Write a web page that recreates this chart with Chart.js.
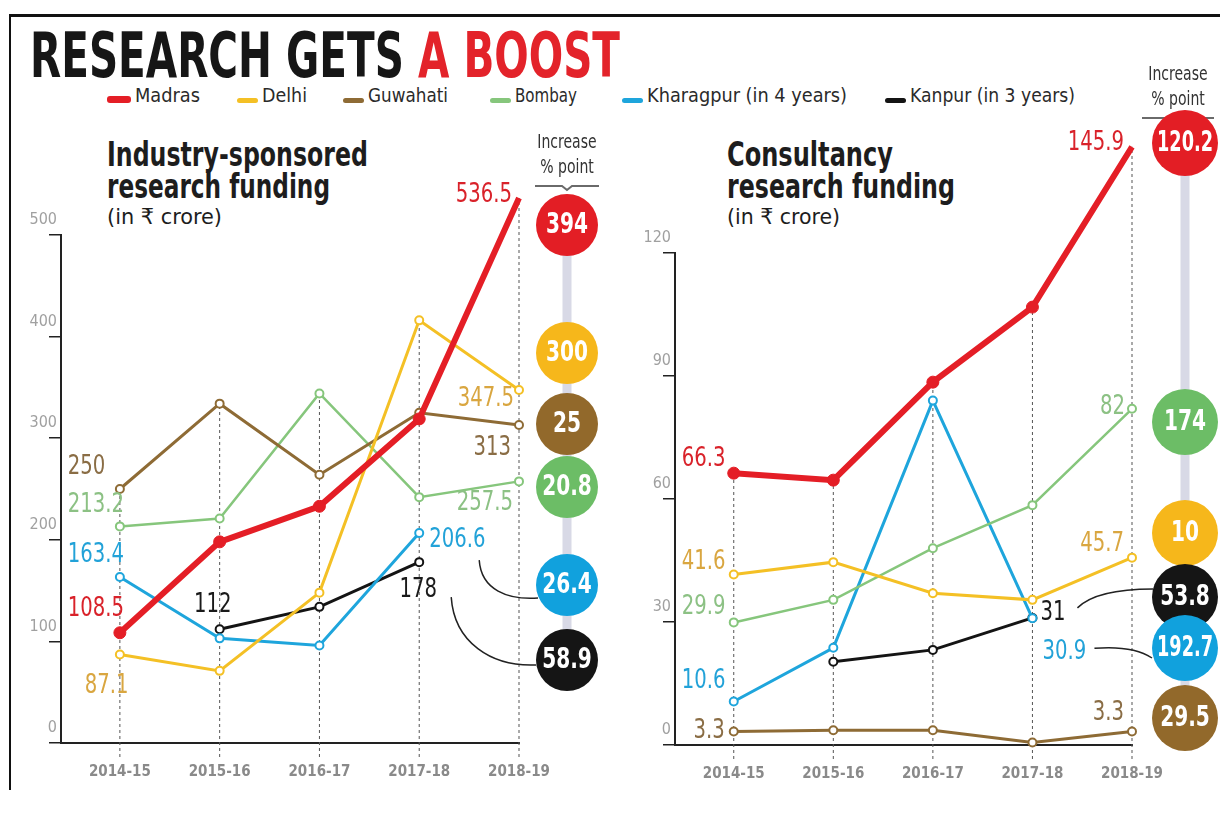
<!DOCTYPE html>
<html>
<head>
<meta charset="utf-8">
<title>Research gets a boost</title>
<script src="https://cdn.jsdelivr.net/npm/chart.js"></script>
<style>
  body { margin: 0; background: #fff; width: 1220px; height: 815px; position: relative; overflow: hidden;
         font-family: 'Liberation Sans Narrow', 'DejaVu Sans Condensed', 'Liberation Sans', 'Noto Sans', sans-serif; }
  .abs { position: absolute; white-space: nowrap; line-height: 1; transform-origin: 0 0; }
  .frameTop { position: absolute; left: 10px; top: 14px; width: 1210px; height: 3px; background: #111; }
  .frameLeft { position: absolute; left: 9px; top: 14px; width: 2px; height: 776px; background: #111; }
  .title { font-weight: bold; font-size: 62px; color: #161616; }
  .title span { color: #e3232a; }
  .panelTitle { font-weight: bold; font-size: 34px; color: #1d1d1d; }
  .unit { font-size: 22px; color: #1d1d1d; }
  .legText { font-size: 19px; color: #2a2a2a; }
  .legMark { position: absolute; border-radius: 3px; }
  canvas { position: absolute; top: 0; }
</style>
</head>
<body>
<div class="frameTop"></div>
<div class="frameLeft"></div>
<div class="abs title" id="title" style="left:30px; top:25px">RESEARCH GETS <span>A BOOST</span></div>
<div id="legend"></div>

<div class="abs panelTitle" data-w="261" style="left:107px; top:137px">Industry-sponsored</div>
<div class="abs panelTitle" data-w="223" style="left:107px; top:169px">research funding</div>
<div class="abs unit" data-w="115" style="left:107px; top:206px">(in ₹ crore)</div>

<div class="abs panelTitle" data-w="166" style="left:727px; top:137px">Consultancy</div>
<div class="abs panelTitle" data-w="228" style="left:727px; top:169px">research funding</div>
<div class="abs unit" data-w="113" style="left:727px; top:206px">(in ₹ crore)</div>

<canvas id="industryChart" width="610" height="815" style="left:0"></canvas>
<canvas id="consultChart" width="610" height="815" style="left:610px"></canvas>

<script>
const years = ['2014-15', '2015-16', '2016-17', '2017-18', '2018-19'];
const institutes = ['Madras', 'Delhi', 'Guwahati', 'Bombay', 'Kharagpur (in 4 years)', 'Kanpur (in 3 years)'];

// Industry-sponsored research funding (in Rs crore)
const industryMadras    = [108.5, 198, 233, 319, 536.5];
const industryDelhi     = [87.1, 71, 148, 416, 347.5];
const industryGuwahati  = [250, 334, 264, 325, 313];
const industryBombay    = [213.2, 221, 344, 242, 257.5];
const industryKharagpur = [163.4, 103, 96, 206.6, null];
const industryKanpur    = [null, 112, 134, 178, null];
const industryIncrease  = ['394', '300', '25', '20.8', '26.4', '58.9'];
const industryTicks     = [0, 100, 200, 300, 400, 500];

// Consultancy research funding (in Rs crore)
const consultMadras    = [66.3, 64.6, 88.5, 106.8, 145.9];
const consultDelhi     = [41.6, 44.6, 37, 35.4, 45.7];
const consultGuwahati  = [3.3, 3.6, 3.6, 0.6, 3.3];
const consultBombay    = [29.9, 35.4, 48, 58.5, 82];
const consultKharagpur = [10.6, 23.7, 84, 30.9, null];
const consultKanpur    = [null, 20.3, 23.2, 31, null];
const consultIncrease  = ['120.2', '10', '29.5', '174', '192.7', '53.8'];
const consultTicks     = [0, 30, 60, 90, 120];

// styles
const lineColors  = ['#e41e26', '#f4c025', '#8e6b35', '#86c67c', '#1ea5dc', '#141414'];
const labelColors = ['#d9222a', '#d9a640', '#8a6d45', '#8cc184', '#22a2d8', '#1a1a1a'];
const badgeColors = ['#e31e25', '#f6b71b', '#92692b', '#6cbd66', '#11a1dd', '#151515'];
const lineWidths  = [6, 3, 3, 2.5, 3, 3];
const FONT = "'Liberation Sans Narrow', 'DejaVu Sans Condensed', 'Liberation Sans', sans-serif";

// legend
const legendX = [107, 237, 343, 490, 622, 885];
const legendW = [65, 45, 80, 62, 200, 165];
const legend = document.getElementById('legend');
institutes.forEach((name, i) => {
  const m = document.createElement('div');
  m.className = 'legMark';
  m.style.left = legendX[i] + 'px';
  m.style.top = (i === 0 ? 96 : 98) + 'px';
  m.style.width = (i === 0 ? 24 : 21) + 'px';
  m.style.height = (i === 0 ? 7 : 5) + 'px';
  m.style.background = lineColors[i];
  legend.appendChild(m);
  const t = document.createElement('div');
  t.className = 'abs legText';
  t.dataset.w = legendW[i];
  t.style.left = (legendX[i] + (i === 0 ? 28 : 25)) + 'px';
  t.style.top = '86px';
  t.textContent = name;
  legend.appendChild(t);
});

function fitWidth(el, w) {
  el.style.transform = 'none';
  const n = el.getBoundingClientRect().width;
  el.style.transform = 'scaleX(' + (w / n) + ')';
}
fitWidth(document.getElementById('title'), 590);
document.querySelectorAll('[data-w]').forEach(el => fitWidth(el, +el.dataset.w));

// text squeezed horizontally, to imitate the narrow newspaper face
function narrowText(ctx, text, x, y, align, sx) {
  ctx.save();
  ctx.translate(x, y);
  ctx.scale(sx, 1);
  ctx.textAlign = align;
  ctx.fillText(text, 0, 0);
  ctx.restore();
}

function makeDatasets(series) {
  return series.map((arr, k) => ({
    label: institutes[k],
    data: years.map((_, i) => ({ x: i, y: arr[i] })),
    borderColor: lineColors[k],
    backgroundColor: lineColors[k],
    borderWidth: lineWidths[k],
    pointRadius: k === 0 ? 6 : 4,
    pointBorderWidth: k === 0 ? 1 : 2,
    pointBackgroundColor: k === 0 ? lineColors[k] : '#ffffff',
    pointBorderColor: lineColors[k],
    tension: 0,
    clip: false,
    spanGaps: false
  }));
}

const decorPlugin = {
  id: 'decor',
  beforeDatasetsDraw(chart, args, o) {
    const ctx = chart.ctx, xs = chart.scales.x, ys = chart.scales.y;
    ctx.save();
    // dashed guides up to the highest point of each year
    ctx.setLineDash([3, 3]);
    ctx.strokeStyle = '#555';
    ctx.lineWidth = 1;
    years.forEach((_, i) => {
      const vals = chart.data.datasets.map(d => d.data[i].y).filter(v => v != null);
      const px = xs.getPixelForValue(i);
      ctx.beginPath();
      ctx.moveTo(px, ys.getPixelForValue(0) + 14);
      ctx.lineTo(px, ys.getPixelForValue(Math.max(...vals)));
      ctx.stroke();
    });
    ctx.setLineDash([]);
    // grey spine behind the badges
    ctx.strokeStyle = '#d8d9e6';
    ctx.lineWidth = 9;
    ctx.beginPath();
    ctx.moveTo(o.badgeX, Math.min(...o.badgeY));
    ctx.lineTo(o.badgeX, Math.max(...o.badgeY));
    ctx.stroke();
    ctx.restore();
  },
  afterDatasetsDraw(chart, args, o) {
    const ctx = chart.ctx;
    ctx.save();
    // value labels
    ctx.font = '26px ' + FONT;
    ctx.textBaseline = 'middle';
    o.notes.forEach(([ds, i, dx, dy, align]) => {
      const el = chart.getDatasetMeta(ds).data[i];
      ctx.fillStyle = labelColors[ds];
      narrowText(ctx, String(chart.data.datasets[ds].data[i].y), el.x + dx, el.y + dy, align, 0.84);
    });
    // connectors from labels to badges
    ctx.strokeStyle = '#222';
    ctx.lineWidth = 1.5;
    o.links.forEach(([ds, i, sx, sy, b, ex, ey, c1x, c1y, c2x, c2y]) => {
      const el = chart.getDatasetMeta(ds).data[i];
      const x0 = el.x + sx, y0 = el.y + sy;
      const x1 = o.badgeX + ex, y1 = o.badgeY[b] + ey;
      ctx.beginPath();
      ctx.moveTo(x0, y0);
      ctx.bezierCurveTo(x0 + c1x, y0 + c1y, x1 + c2x, y1 + c2y, x1, y1);
      ctx.stroke();
    });
    // header
    ctx.fillStyle = '#333';
    ctx.font = '19px ' + FONT;
    narrowText(ctx, 'Increase', o.headX, o.headY, 'center', 0.82);
    narrowText(ctx, '% point', o.headX, o.headY + 25, 'center', 0.82);
    ctx.strokeStyle = '#6a6a6a';
    ctx.lineWidth = 2;
    ctx.beginPath();
    ctx.moveTo(o.headX - o.headW, o.headY + 43);
    ctx.lineTo(o.headX - 5, o.headY + 43);
    ctx.lineTo(o.headX, o.headY + 47);
    ctx.lineTo(o.headX + 5, o.headY + 43);
    ctx.lineTo(o.headX + o.headW, o.headY + 43);
    ctx.stroke();
    // badges, top to bottom
    const order = o.badgeY.map((y, k) => k).sort((a, b) => o.badgeY[a] - o.badgeY[b]);
    order.forEach(k => {
      ctx.fillStyle = badgeColors[k];
      ctx.beginPath();
      ctx.arc(o.badgeX, o.badgeY[k], o.badgeR, 0, Math.PI * 2);
      ctx.fill();
      ctx.fillStyle = '#fff';
      ctx.font = 'bold 28px ' + FONT;
      const w = ctx.measureText(o.increase[k]).width;
      const sx = Math.min(0.8, (o.badgeR * 2 - 10) / w);
      narrowText(ctx, o.increase[k], o.badgeX, o.badgeY[k] + 1, 'center', sx);
    });
    ctx.restore();
  }
};

function axisOptions(ticksY, xMin, yMax, yWidth, xHeight) {
  return {
    x: {
      type: 'linear', min: xMin, max: 4,
      afterFit(s) { s.height = xHeight; },
      afterBuildTicks(s) { s.ticks = years.map((_, i) => ({ value: i })); },
      grid: { display: true, drawOnChartArea: false, drawTicks: false },
      border: { display: true, color: '#222', width: 2 },
      ticks: { color: '#8a8a8a', font: { family: FONT, size: 15, weight: 'bold' }, padding: 20,
               autoSkip: false, maxRotation: 0, callback: v => years[v] ?? '' }
    },
    y: {
      min: 0, max: yMax,
      afterFit(s) { s.width = yWidth; },
      afterBuildTicks(s) { s.ticks = ticksY.map(v => ({ value: v })); },
      grid: { drawOnChartArea: false, drawTicks: true, tickLength: 12, color: '#222', lineWidth: 1.5 },
      border: { display: true, color: '#222', width: 2 },
      ticks: { color: '#a0a0a0', font: { family: FONT, size: 16 }, padding: -8, labelOffset: -15 }
    }
  };
}

new Chart(document.getElementById('industryChart'), {
  type: 'line',
  data: { datasets: makeDatasets([industryMadras, industryDelhi, industryGuwahati, industryBombay, industryKharagpur, industryKanpur]) },
  options: {
    responsive: false, animation: false,
    layout: { padding: { left: 0, right: 91, top: 235, bottom: 0 } },
    scales: axisOptions(industryTicks, -0.59, 500, 61, 72),
    plugins: {
      legend: { display: false }, tooltip: { enabled: false },
      decor: {
        increase: industryIncrease,
        badgeX: 567, badgeR: 31, badgeY: [225, 353, 424, 487, 585, 660],
        headX: 567, headY: 143, headW: 32,
        notes: [[0, 4, -7, -3, 'right'], [0, 0, -52, -24, 'left'], [1, 0, -35, 32, 'left'], [1, 4, -5, 9, 'right'],
                [2, 0, -52, -22, 'left'], [2, 4, -8, 23, 'right'], [3, 0, -52, -21, 'left'], [3, 4, -6, 22, 'right'],
                [4, 0, -52, -22, 'left'], [4, 3, 10, 7, 'left'], [5, 1, -7, -24, 'center'], [5, 3, -1, 28, 'center']],
        links: [[4, 3, 60, 27, 4, -29, 13, 2, 30, -30, 2],
                [5, 3, 32, 35, 5, -31, 5, 3, 45, -45, 2]]
      }
    }
  },
  plugins: [decorPlugin]
});

new Chart(document.getElementById('consultChart'), {
  type: 'line',
  data: { datasets: makeDatasets([consultMadras, consultDelhi, consultGuwahati, consultBombay, consultKharagpur, consultKanpur]) },
  options: {
    responsive: false, animation: false,
    layout: { padding: { left: 0, right: 88, top: 253, bottom: 0 } },
    scales: axisOptions(consultTicks, -0.59, 120, 65, 70),
    plugins: {
      legend: { display: false }, tooltip: { enabled: false },
      decor: {
        increase: consultIncrease,
        badgeX: 575, badgeR: 33, badgeY: [143, 533, 718, 422, 648, 597],
        headX: 568, headY: 75, headW: 36,
        notes: [[0, 4, -8, -4, 'right'], [0, 0, -52, -14, 'left'], [1, 0, -52, -12, 'left'], [1, 4, -8, -13, 'right'],
                [3, 0, -52, -15, 'left'], [3, 4, -7, -2, 'right'], [4, 0, -52, -20, 'left'], [4, 3, 10, 34, 'left'],
                [2, 0, -9, 0, 'right'], [2, 4, -8, -18, 'right'], [5, 3, 8, -5, 'left']],
        links: [[5, 3, 45, -10, 5, -32, -8, 15, -15, -30, 0],
                [4, 3, 62, 30, 4, -33, 10, 25, -2, -12, -8]]
      }
    }
  },
  plugins: [decorPlugin]
});
</script>
</body>
</html>
